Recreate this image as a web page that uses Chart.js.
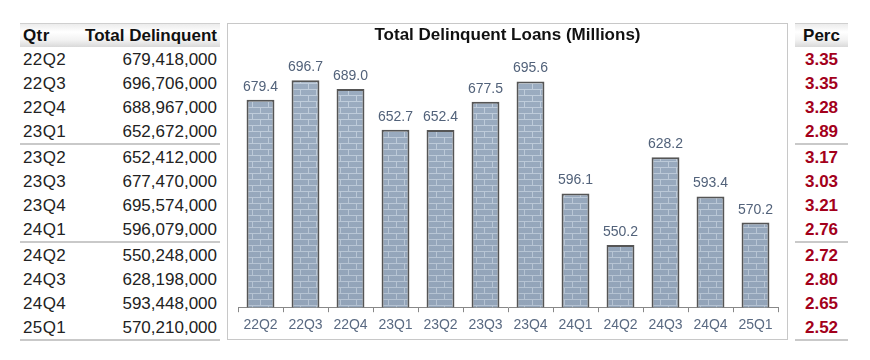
<!DOCTYPE html>
<html>
<head>
<meta charset="utf-8">
<script src="https://cdn.jsdelivr.net/npm/chart.js@4.4.1/dist/chart.umd.min.js"></script>
<style>
  body { margin: 0; width: 870px; height: 360px; background: #fff; position: relative; overflow: hidden;
         font-family: "Liberation Sans", Arial, sans-serif; }
  .tbl { position: absolute; top: 23px; }
  .hdr { height: 23px; line-height: 24px; font-weight: bold; font-size: 17px; color: #111;
         border-top: 1px solid #cfcfcf; display: flex; white-space: nowrap;
         background: linear-gradient(to bottom, #ececec 0%, #ffffff 35%, #f2f2f2 70%, #d9d9d9 100%); }
  .row { height: 24px; line-height: 26px; font-size: 17px; color: #222; white-space: nowrap; display: flex; }
  .sep { height: 2px; background: #c9c9c9; }
  .qtr { width: 72px; padding-left: 3px; letter-spacing: 0.4px; }
  .num { flex: 1; text-align: right; padding-right: 3px; }
  .perc { justify-content: center; font-weight: bold; color: #a3001b; }
  #panel { position: absolute; left: 227px; top: 23px; width: 561px; height: 317px;
           box-sizing: border-box; border: 1px solid #c8c8c8; }
  #title { position: absolute; left: 0; right: 0; top: 0; text-align: center; font-weight: bold;
           font-size: 17px; line-height: 22px; color: #111; }
  #chart { position: absolute; left: 0; top: 0; }
</style>
</head>
<body>
<div class="tbl" id="left" style="left:20px; width:200px;"></div>
<div id="panel">
  <canvas id="chart" width="559" height="315"></canvas>
  <div id="title">Total Delinquent Loans (Millions)</div>
</div>
<div class="tbl" id="right" style="left:795px; width:53px;"></div>

<script>
// данные
const quarters = ['22Q2', '22Q3', '22Q4', '23Q1', '23Q2', '23Q3', '23Q4', '24Q1', '24Q2', '24Q3', '24Q4', '25Q1'];
const totalDelinquent = [679418000, 696706000, 688967000, 652672000, 652412000, 677470000,
                         695574000, 596079000, 550248000, 628198000, 593448000, 570210000];
const loansMillions = [679.4, 696.7, 689.0, 652.7, 652.4, 677.5, 695.6, 596.1, 550.2, 628.2, 593.4, 570.2];
const percent = [3.35, 3.35, 3.28, 2.89, 3.17, 3.03, 3.21, 2.76, 2.72, 2.80, 2.65, 2.52];

// таблицы
var leftHtml = '<div class="hdr"><span class="qtr">Qtr</span><span class="num">Total Delinquent</span></div>';
var rightHtml = '<div class="hdr" style="justify-content:center">Perc</div>';
quarters.forEach(function(q, i) {
  leftHtml += '<div class="row"><span class="qtr">' + q + '</span><span class="num">' +
    totalDelinquent[i].toLocaleString('en-US') + '</span></div>';
  rightHtml += '<div class="row perc">' + percent[i].toFixed(2) + '</div>';
  if (i % 4 === 3) {
    leftHtml += '<div class="sep"></div>';
    rightHtml += '<div class="sep"></div>';
  }
});
document.getElementById('left').innerHTML = leftHtml;
document.getElementById('right').innerHTML = rightHtml;

var ctx = document.getElementById('chart').getContext('2d');

// кирпичная текстура
function makeBrick() {
  var c = document.createElement('canvas');
  c.width = 16; c.height = 12;
  var g = c.getContext('2d');
  g.fillStyle = '#9cadc1';
  g.fillRect(0, 0, 16, 12);
  g.fillStyle = '#c2cfdd';
  g.fillRect(0, 5, 16, 1);
  g.fillRect(0, 11, 16, 1);
  g.fillRect(0, 0, 1, 5);
  g.fillRect(8, 6, 1, 5);
  return ctx.createPattern(c, 'repeat');
}

var barShade = {
  id: 'barShade',
  afterDatasetsDraw: function(chart) {
    var c = chart.ctx;
    var area = chart.chartArea;
    var meta = chart.getDatasetMeta(0);
    var grad = c.createLinearGradient(0, area.top, 0, area.bottom);
    grad.addColorStop(0, 'rgba(60,80,110,0)');
    grad.addColorStop(1, 'rgba(60,80,110,0.1)');
    c.save();
    meta.data.forEach(function(bar) {
      var w = bar.width;
      var bottom = Math.min(bar.base, area.bottom);
      c.fillStyle = grad;
      c.fillRect(bar.x - w / 2 + 2, bar.y + 2, w - 4, bottom - bar.y - 2);
    });
    // подписи значений
    c.fillStyle = '#52627a';
    c.font = '14px "Liberation Sans", Arial, sans-serif';
    c.textAlign = 'center';
    c.textBaseline = 'alphabetic';
    meta.data.forEach(function(bar, i) {
      c.fillText(loansMillions[i].toFixed(1), bar.x, bar.y - 9);
    });
    c.restore();
  }
};

var myChart = new Chart(ctx, {
  type: 'bar',
  data: {
    labels: quarters,
    datasets: [{
      label: 'Total Delinquent Loans (Millions)',
      data: loansMillions,
      backgroundColor: makeBrick(),
      borderColor: '#555555',
      borderWidth: 2,
      borderSkipped: false,
      barPercentage: 0.62,
      categoryPercentage: 1
    }]
  },
  options: {
    responsive: false,
    animation: false,
    layout: { padding: { left: 10, right: 9, top: 30, bottom: 0 } },
    plugins: { legend: { display: false }, tooltip: { enabled: false } },
    scales: {
      y: { display: false, min: 495, max: 720 },
      x: {
        grid: { offset: true, drawOnChartArea: false, drawTicks: true, tickLength: 5, color: '#888888' },
        border: { display: true, color: '#888888', width: 1 },
        ticks: { color: '#5a6a82', padding: 5, font: { size: 14, family: '"Liberation Sans", Arial, sans-serif' } }
      }
    }
  },
  plugins: [barShade]
});
</script>
</body>
</html>
